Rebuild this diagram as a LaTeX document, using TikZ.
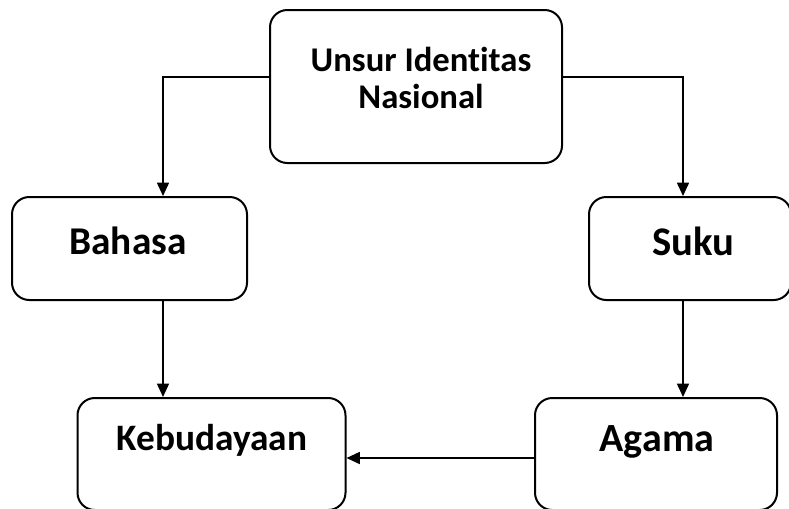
\documentclass[tikz,border=0pt]{standalone}
\usepackage{fontspec}
\setmainfont{Carlito}[Ligatures=NoCommon]
\usetikzlibrary{arrows.meta}
\begin{document}
\begin{tikzpicture}[x=0.75pt,y=-0.75pt,
  box/.style={draw=black, line width=1.5pt, rounded corners=13pt, fill=white, inner sep=0pt},
  txt/.style={font=\bfseries, inner sep=0pt, align=center},
  conn/.style={line width=1.2pt, -{Triangle[length=10pt,width=9pt]}}]
\clip (0,0) rectangle (789,508);
\fill[white] (0,0) rectangle (789,508);
% boxes
\node[box, minimum width=219pt, minimum height=114.75pt] (top) at (416,86.5) {};
\node[box, minimum width=176.25pt, minimum height=77.25pt] (bahasa) at (129.5,248.5) {};
\node[box, minimum width=151.5pt, minimum height=77.25pt] (suku) at (690,248.5) {};
\node[box, minimum width=201pt, minimum height=84pt] (kebud) at (211.5,454) {};
\node[box, minimum width=181.5pt, minimum height=84pt] (agama) at (656,454) {};
% texts
\node[txt, font=\fontsize{26}{28}\selectfont\bfseries] (topT) at (421,78) {Unsur Identitas\\Nasional};
\node[txt, font=\fontsize{29.5}{32}\selectfont\bfseries] (bahasaT) at (128,241) {Bahasa};
\node[txt, font=\fontsize{30.5}{32}\selectfont\bfseries] (sukuT) at (693,241) {Suku};
\node[txt, font=\fontsize{28}{30}\selectfont\bfseries] (kebudT) at (212,440) {Kebudayaan};
\node[txt, font=\fontsize{30}{32}\selectfont\bfseries] (agamaT) at (657,442) {Agama};
% connectors
\coordinate (tl) at (top.west |- 0,77);
\coordinate (tr) at (top.east |- 0,77);
\draw[conn] (tl) -| (bahasa.north -| 163,0);
\draw[conn] (tr) -| (suku.north -| 683,0);
\draw[conn] (bahasa.south -| 163,0) -- (kebud.north -| 163,0);
\draw[conn] (suku.south -| 683,0) -- (agama.north -| 683,0);
\draw[conn] (agama.west |- 0,458) -- (kebud.east |- 0,458);
\end{tikzpicture}
\end{document}
